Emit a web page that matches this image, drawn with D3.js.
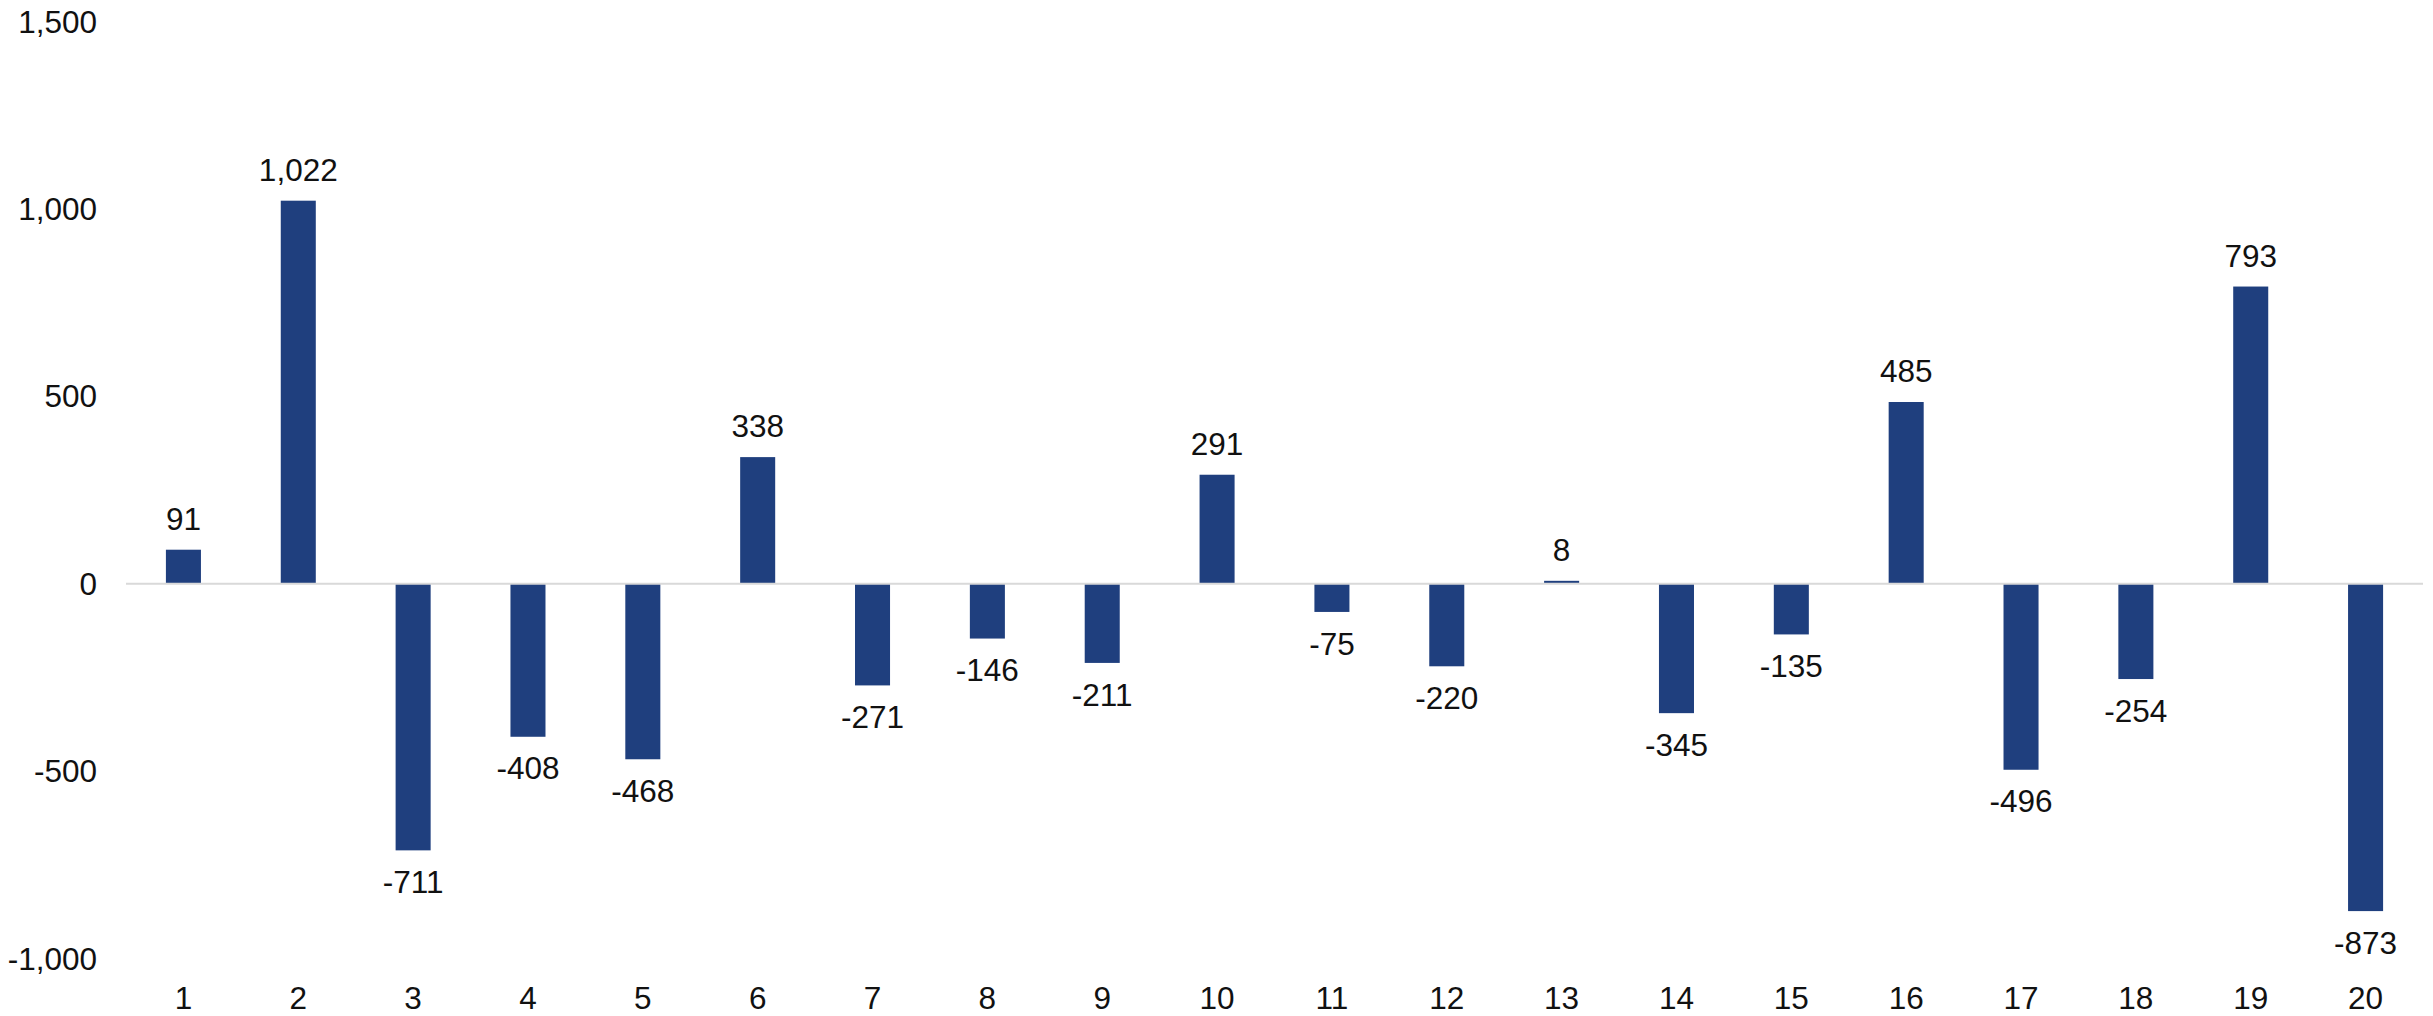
<!DOCTYPE html>
<html><head><meta charset="utf-8">
<script src="https://cdn.jsdelivr.net/npm/d3@7"></script>
<style>html,body{margin:0;padding:0;background:#fff;}svg{display:block;}</style>
</head><body>
<svg id="chart" width="2433" height="1016"></svg>
<script>
const categories = ["1","2","3","4","5","6","7","8","9","10","11","12","13","14","15","16","17","18","19","20"];
const values = [91,1022,-711,-408,-468,338,-271,-146,-211,291,-75,-220,8,-345,-135,485,-496,-254,793,-873];
const yTicks = [-1000,-500,0,500,1000,1500];

(function(){
const svg = d3.select("#chart");
const font = "'Liberation Sans', Arial, sans-serif";
const fs = 31.5;
const plotLeft = 126, plotRight = 2423, plotTop = 21.5, plotBottom = 958.7;

const x = d3.scaleBand().domain(categories).range([plotLeft, plotRight]).paddingInner(0.695).paddingOuter(0.3475);
const y = d3.scaleLinear().domain([-1000, 1500]).range([plotBottom, plotTop]);
const f0 = d3.format(",");
const fmt = d => f0(d).replace("\u2212", "-");

// y tick labels
svg.append("g").selectAll("text").data(yTicks).join("text")
  .attr("x", 97).attr("y", d => y(d)).attr("dy", "0.35em")
  .attr("text-anchor", "end").attr("font-family", font).attr("font-size", fs).attr("fill", "#111")
  .text(d => fmt(d));

// bars
svg.append("g").selectAll("rect").data(values).join("rect")
  .attr("x", (d, i) => x(categories[i]))
  .attr("width", x.bandwidth())
  .attr("y", d => y(Math.max(0, d)))
  .attr("height", d => Math.abs(y(d) - y(0)))
  .attr("fill", "#1F3F7E");

// zero line
svg.append("line").attr("x1", plotLeft).attr("x2", plotRight).attr("y1", y(0)).attr("y2", y(0))
  .attr("stroke", "#D9D9D9").attr("stroke-width", 2);

// value labels
svg.append("g").selectAll("text").data(values).join("text")
  .attr("x", (d, i) => x(categories[i]) + x.bandwidth() / 2)
  .attr("y", d => d >= 0 ? y(d) - 20 : y(d) + 20)
  .attr("dy", d => d >= 0 ? "0" : "0.72em")
  .attr("text-anchor", "middle").attr("font-family", font).attr("font-size", fs).attr("fill", "#111")
  .text(d => fmt(d));

// category labels
svg.append("g").selectAll("text").data(categories).join("text")
  .attr("x", d => x(d) + x.bandwidth() / 2).attr("y", 998).attr("dy", "0.35em")
  .attr("text-anchor", "middle").attr("font-family", font).attr("font-size", fs).attr("fill", "#111")
  .text(d => d);
})();
</script>
</body></html>
